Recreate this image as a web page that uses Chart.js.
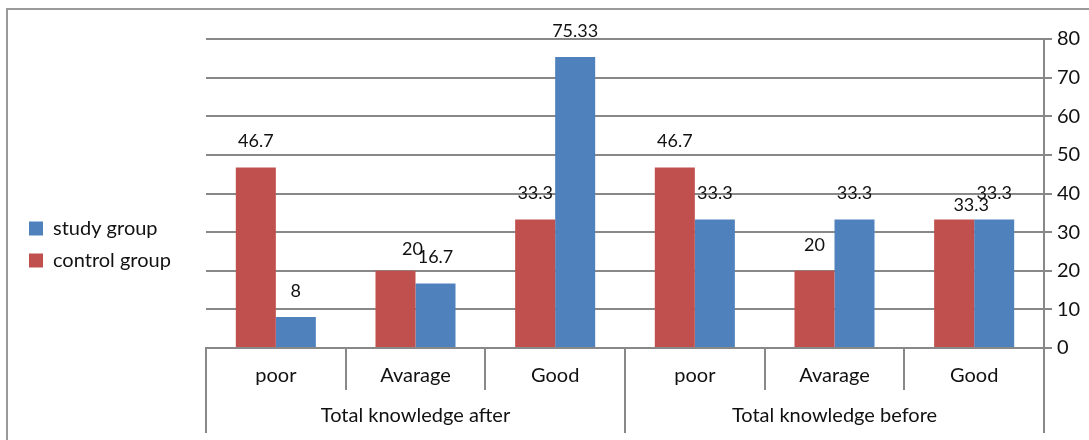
<!DOCTYPE html>
<html>
<head>
<meta charset="utf-8">
<script src="https://cdn.jsdelivr.net/npm/chart.js@4/dist/chart.umd.min.js"></script>
<style>
  html, body { margin: 0; padding: 0; background: #fff; }
  #wrap { width: 1089px; height: 440px; }
</style>
</head>
<body>
<div id="wrap"><canvas id="myChart"></canvas></div>
<script>
// data
var categories = ["poor", "Avarage", "Good", "poor", "Avarage", "Good"];
var groups = ["Total knowledge after", "Total knowledge before"];
var controlGroup = [46.7, 20, 33.3, 46.7, 20, 33.3];
var studyGroup = [8, 16.7, 75.33, 33.3, 33.3, 33.3];
var yTicks = [0, 10, 20, 30, 40, 50, 60, 70, 80];

var FONT = "Lato, 'Open Sans', sans-serif";
var GRID = "#888888";

// frame, group labels and long divider lines
var extras = {
    id: "extras",
    beforeInit: function (chart) {
        var lg = chart.legend;
        var fit = lg.fit;
        lg.fit = function () {
            fit.call(this);
            this.width = 189;
        };
    },
    afterLayout: function (chart) {
        chart.legend.top += 5;
        chart.legend.bottom += 5;
    },
    beforeDraw: function (chart) {
        var ctx = chart.ctx;
        ctx.save();
        ctx.strokeStyle = "#9a9a9a";
        ctx.lineWidth = 2;
        ctx.beginPath();
        ctx.moveTo(7, 440);
        ctx.lineTo(7, 9);
        ctx.lineTo(1089, 9);
        ctx.stroke();
        ctx.restore();
    },
    afterDraw: function (chart) {
        var ctx = chart.ctx;
        var x = chart.scales.x;
        var step = x.getPixelForValue(1) - x.getPixelForValue(0);
        var top = chart.chartArea.bottom;
        ctx.save();
        ctx.strokeStyle = GRID;
        ctx.lineWidth = 2;
        ctx.fillStyle = "#111";
        ctx.font = "20px " + FONT;
        ctx.textAlign = "center";
        ctx.textBaseline = "middle";
        for (var g = 0; g < groups.length; g++) {
            var left = x.getPixelForValue(g * 3) - step / 2;
            var right = x.getPixelForValue(g * 3 + 2) + step / 2;
            ctx.fillText(groups[g], (left + right) / 2, top + 68);
            ctx.beginPath();
            ctx.moveTo(left, top);
            ctx.lineTo(left, top + 85);
            ctx.moveTo(right, top);
            ctx.lineTo(right, top + 85);
            ctx.stroke();
        }
        // value labels, two of them nudged like in the original
        ctx.font = "18px " + FONT;
        chart.data.datasets.forEach(function (ds, di) {
            var meta = chart.getDatasetMeta(di);
            meta.data.forEach(function (bar, i) {
                var dx = 0, dy = 0;
                if (di === 0 && i === 1) { dx = 17; dy = 4; }
                if (di === 0 && i === 5) { dx = 17; dy = 12; }
                ctx.fillText(String(ds.data[i]), bar.x + dx, bar.y - 26 + dy);
            });
        });
        ctx.restore();
    }
};

var ctx = document.getElementById("myChart");
var myChart = new Chart(ctx, {
    type: "bar",
    data: {
        labels: categories,
        datasets: [
            {
                label: "control group",
                data: controlGroup,
                backgroundColor: "#C0504D",
                categoryPercentage: 0.573,
                barPercentage: 1
            },
            {
                label: "study group",
                data: studyGroup,
                backgroundColor: "#4F81BD",
                categoryPercentage: 0.573,
                barPercentage: 1
            }
        ]
    },
    options: {
        responsive: true,
        maintainAspectRatio: false,
        animation: false,
        layout: { padding: { left: 17, top: 39, right: 0, bottom: 0 } },
        plugins: {
            tooltip: { enabled: false },
            legend: {
                position: "left",
                reverse: true,
                labels: {
                    boxWidth: 14,
                    boxHeight: 14,
                    padding: 12,
                    color: "#111",
                    font: { family: FONT, size: 20 }
                }
            }
        },
        scales: {
            x: {
                offset: true,
                grid: {
                    offset: true,
                    drawOnChartArea: false,
                    tickLength: 42,
                    color: GRID,
                    lineWidth: 2
                },
                border: { color: GRID, width: 2 },
                ticks: {
                    padding: -26,
                    color: "#111",
                    font: { family: FONT, size: 20 }
                },
                afterFit: function (scale) { scale.height = 92; }
            },
            y: {
                position: "right",
                min: 0,
                max: 80,
                afterBuildTicks: function (scale) {
                    scale.ticks = yTicks.map(function (v) { return { value: v }; });
                },
                grid: { color: GRID, lineWidth: 2, tickLength: 8 },
                border: { color: GRID, width: 2 },
                ticks: {
                    padding: 5,
                    color: "#111",
                    font: { family: FONT, size: 20 }
                },
                afterFit: function (scale) { scale.width = 45; }
            }
        }
    },
    plugins: [extras]
});
</script>
</body>
</html>
